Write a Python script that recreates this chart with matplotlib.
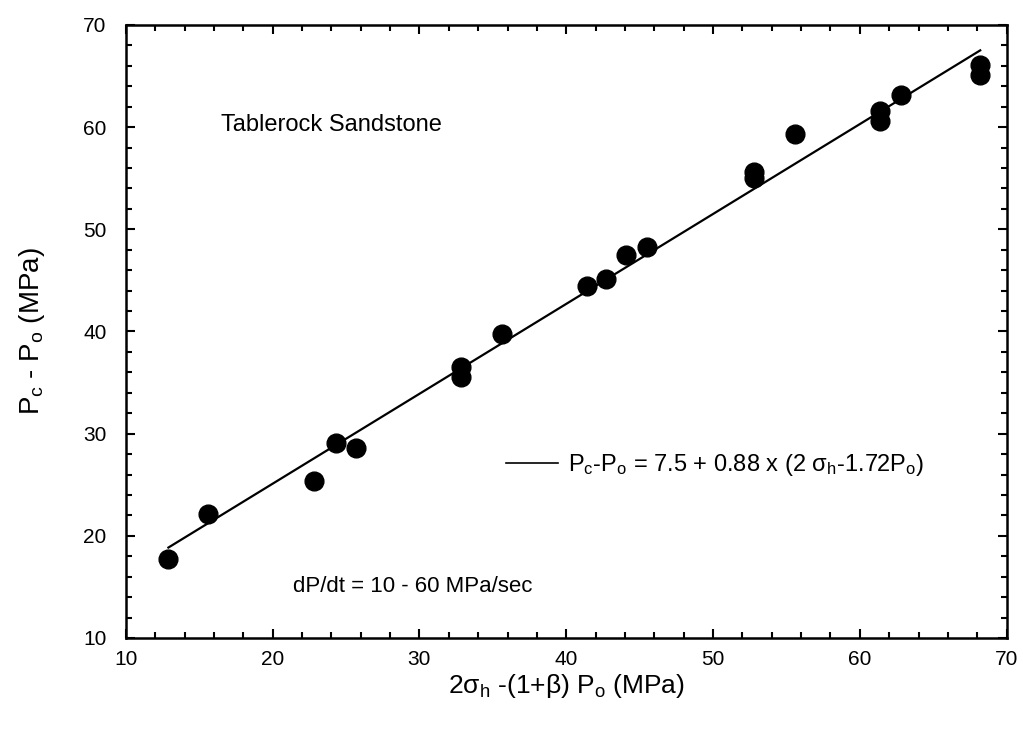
import matplotlib
matplotlib.use('Agg')
import matplotlib.pyplot as plt
from matplotlib.lines import Line2D
from matplotlib.ticker import MultipleLocator

plt.rcParams['font.family'] = ['Liberation Sans', 'DejaVu Sans']
plt.rcParams['mathtext.fontset'] = 'custom'
plt.rcParams['mathtext.rm'] = 'Liberation Sans'
plt.rcParams['mathtext.it'] = 'Liberation Sans:italic'

# measured points: 2sigma_h-(1+beta)Po vs Pc-Po (MPa)
stress = [12.9, 15.6, 22.8, 24.3, 25.7, 32.8, 32.8, 35.6, 41.4, 42.7,
          44.1, 45.5, 52.8, 52.8, 55.6, 61.4, 61.4, 62.8, 68.2, 68.2]
pc_po = [17.7, 22.1, 25.4, 29.1, 28.6, 36.5, 35.5, 39.8, 44.5, 45.1,
         47.5, 48.3, 55.6, 55.0, 59.3, 61.6, 60.6, 63.1, 66.1, 65.1]

# fitted line Pc-Po = 7.5 + 0.88 x (...)
fit_x = [12.9, 68.2]
intercept = 7.5
slope = 0.88
fit_y = [intercept + slope * v for v in fit_x]

fig = plt.figure(figsize=(10.23, 7.35), dpi=100)
ax = fig.add_axes([0.123, 0.132, 0.861, 0.834])

ax.plot(stress, pc_po, 'o', color='black', ms=13.5, zorder=3)
ax.plot(fit_x, fit_y, '-', color='black', lw=1.6, zorder=2)

ax.set_xlim(10, 70)
ax.set_ylim(10, 70)
ax.xaxis.set_major_locator(MultipleLocator(10))
ax.xaxis.set_minor_locator(MultipleLocator(2))
ax.yaxis.set_major_locator(MultipleLocator(10))
ax.yaxis.set_minor_locator(MultipleLocator(2))
ax.tick_params(which='both', direction='in', top=True, right=True, width=1.5)
ax.tick_params(which='major', length=6.5, labelsize=15)
ax.tick_params(axis='y', which='major', pad=14)
ax.tick_params(axis='x', which='major', pad=9)
ax.tick_params(which='minor', length=4)
for s in ax.spines.values():
    s.set_linewidth(1.8)

ax.set_xlabel(r'2$\mathregular{σ_h}$ -(1+β) P$\mathregular{_o}$ (MPa)', fontsize=19, labelpad=2)
ax.set_ylabel(r'P$\mathregular{_c}$ - P$\mathregular{_o}$ (MPa)', fontsize=20, labelpad=26)

ax.text(16.5, 60.2, 'Tablerock Sandstone', fontsize=17, va='center', ha='left')
ax.text(21.4, 15.0, 'dP/dt = 10 - 60 MPa/sec', fontsize=16, va='center', ha='left')

handle = Line2D([], [], color='black', lw=1.2)
ax.legend([handle],
          [r'P$\mathregular{_c}$-P$\mathregular{_o}$ = 7.5 + 0.88 x (2 σ$\mathregular{_h}$-1.72P$\mathregular{_o}$)'],
          loc='center left', bbox_to_anchor=(0.432, 0.282), frameon=False,
          fontsize=17, handlelength=2.2, handletextpad=0.4,
          borderpad=0, borderaxespad=0)

fig.savefig('out.png', dpi=100)
